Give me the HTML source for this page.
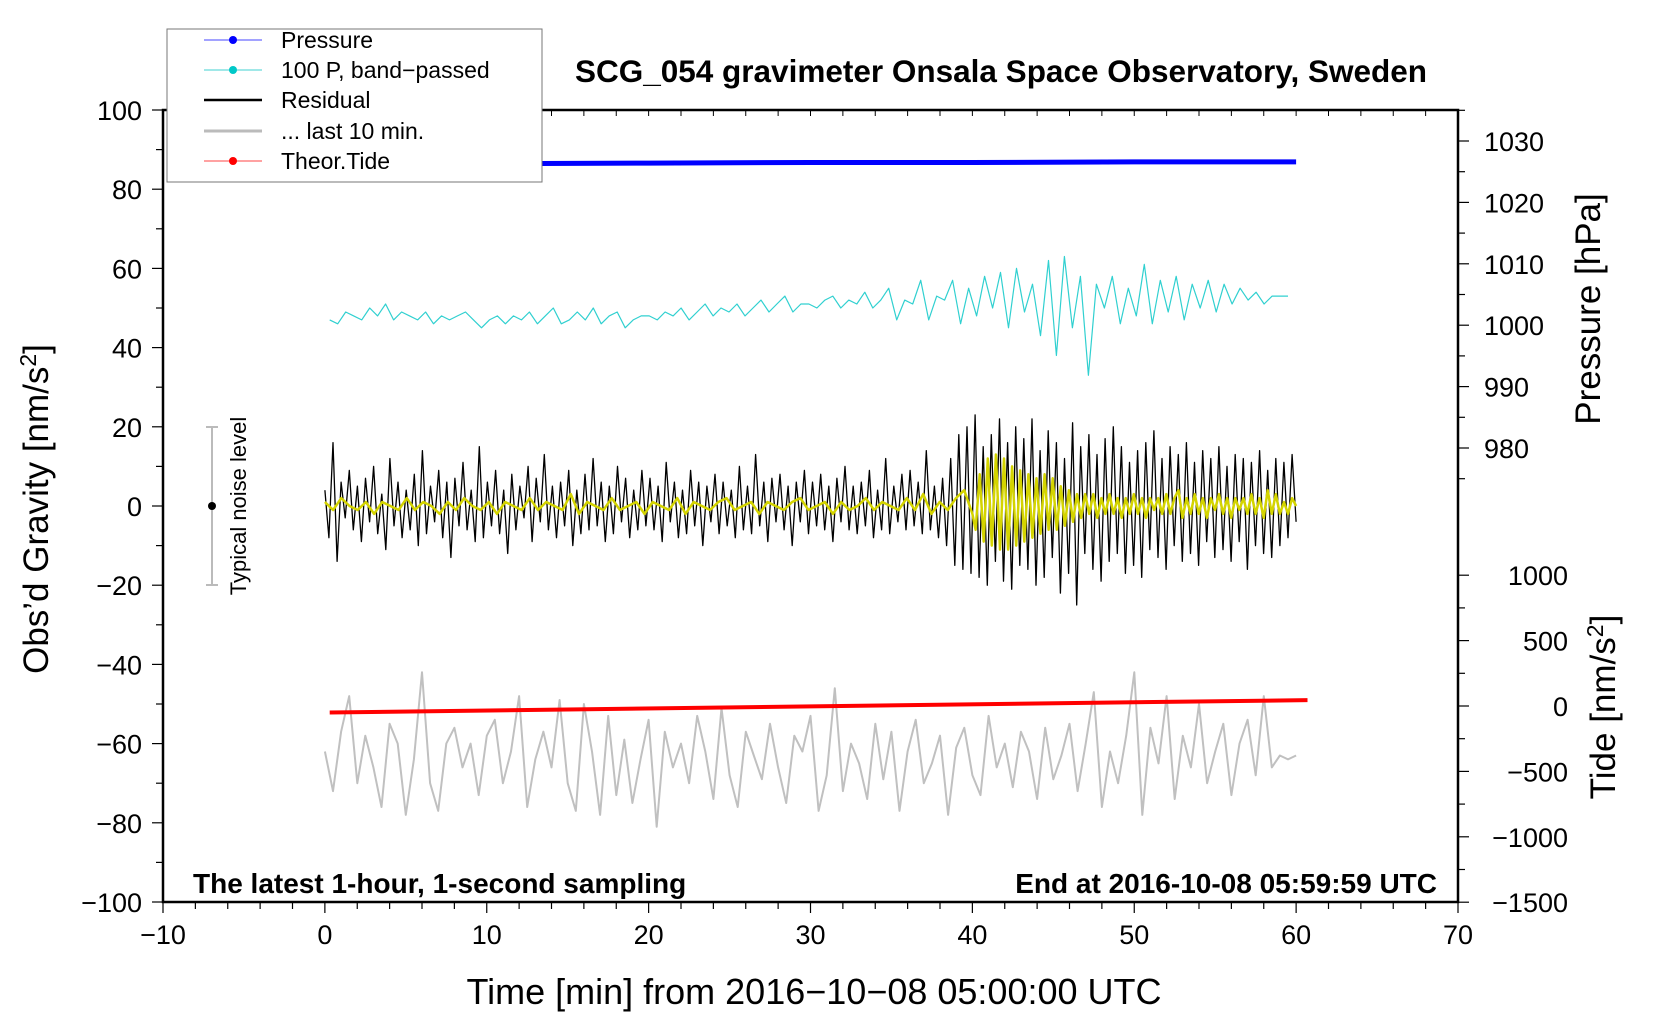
<!DOCTYPE html>
<html><head><meta charset="utf-8"><style>
html,body{margin:0;padding:0;background:#fff;}
svg{display:block;font-family:"Liberation Sans",sans-serif;}
</style></head><body>
<svg id="chart" width="1660" height="1020" viewBox="0 0 1660 1020" xmlns="http://www.w3.org/2000/svg">
<rect x="0" y="0" width="1660" height="1020" fill="#fff"/>
<g id="axes"></g>
<g id="series"></g>
<text x="1001" y="82" text-anchor="middle" font-size="31.5" font-weight="bold">SCG_054 gravimeter Onsala Space Observatory, Sweden</text>
<text x="193" y="893" font-size="28" font-weight="bold">The latest 1-hour, 1-second sampling</text>
<text x="1437" y="893" text-anchor="end" font-size="28" font-weight="bold">End at 2016-10-08 05:59:59 UTC</text>
<text x="814" y="1004" text-anchor="middle" font-size="36">Time [min] from 2016−10−08 05:00:00 UTC</text>
<text transform="translate(48,509) rotate(-90)" text-anchor="middle" font-size="35">Obs’d Gravity [nm/s<tspan font-size="23" dy="-12">2</tspan><tspan dy="12">]</tspan></text>
<text transform="translate(1600,309) rotate(-90)" text-anchor="middle" font-size="35">Pressure [hPa]</text>
<text transform="translate(1615,707) rotate(-90)" text-anchor="middle" font-size="35">Tide [nm/s<tspan font-size="23" dy="-12">2</tspan><tspan dy="12">]</tspan></text>
<g>
<line x1="212" y1="427" x2="212" y2="585" stroke="#bbb" stroke-width="2"/>
<line x1="206" y1="427" x2="218" y2="427" stroke="#bbb" stroke-width="2"/>
<line x1="206" y1="585" x2="218" y2="585" stroke="#bbb" stroke-width="2"/>
<circle cx="212" cy="506" r="4" fill="#000"/>
<text transform="translate(246,506) rotate(-90)" text-anchor="middle" font-size="22">Typical noise level</text>
</g>
<g>
<rect x="167" y="29" width="375" height="153" fill="#fff" stroke="#777" stroke-width="1"/>
<g><line x1="204" y1="40" x2="262" y2="40" stroke="#4444ff" stroke-width="1"/><circle cx="233" cy="40" r="4" fill="#0000ff"/><text x="281" y="48" font-size="23">Pressure</text></g>
<g><line x1="204" y1="70" x2="262" y2="70" stroke="#40d0d0" stroke-width="1"/><circle cx="233" cy="70" r="4" fill="#00c8c8"/><text x="281" y="78" font-size="23">100 P, band−passed</text></g>
<g><line x1="204" y1="100" x2="262" y2="100" stroke="#000" stroke-width="2.5"/><text x="281" y="108" font-size="23">Residual</text></g>
<g><line x1="204" y1="131" x2="262" y2="131" stroke="#bbb" stroke-width="3"/><text x="281" y="139" font-size="23">... last 10 min.</text></g>
<g><line x1="204" y1="161" x2="262" y2="161" stroke="#ff4444" stroke-width="1"/><circle cx="233" cy="161" r="4" fill="#ff0000"/><text x="281" y="169" font-size="23">Theor.Tide</text></g>
</g>
</svg>
<script>
const xTicks=[-10,0,10,20,30,40,50,60,70];
const yTicks=[100,80,60,40,20,0,-20,-40,-60,-80,-100];
const pTicks=[1030,1020,1010,1000,990,980];
const tTicks=[1000,500,0,-500,-1000,-1500];
const pressureTime=[0,10,20,30,40,50,60];
const pressureVals=[1026.4,1026.3,1026.4,1026.5,1026.5,1026.6,1026.6];
const tideTime=[0.3,60.7];
const tideVals=[-50,45];
const bandVals=[47,46,49,48,47,50,48,51,47,49,48,47,49,46,48,47,48,49,47,45,
47,48,46,48,47,49,46,48,50,46,47,49,47,50,46,48,49,45,47,48,
48,47,49,48,50,47,49,51,48,50,49,51,48,50,52,49,51,53,49,51,
51,50,52,53,50,52,51,54,50,52,55,47,52,51,57,47,53,52,57,46,
55,48,58,50,59,45,60,49,56,43,62,38,63,45,58,33,56,50,58,46,
55,48,61,46,57,49,58,47,56,50,57,49,56,51,55,52,54,51,53,53,53];
const residualVals=[4,-8,16,-14,6,-3,9,-6,5,-9,7,-4,10,-7,3,-11,12,-5,6,-8,4,-6,8,-10,14,-7,5,-4,9,-8,6,-13,7,-5,11,-6,4,-9,15,-8,
6,-5,9,-7,4,-12,8,-6,5,-3,10,-9,7,-4,13,-6,5,-8,6,-5,9,-10,4,-7,8,-6,12,-5,6,-9,5,-7,10,-4,7,-8,4,-6,9,-5,
7,-6,5,-9,11,-4,6,-8,4,-7,9,-5,6,-10,5,-4,8,-7,6,-5,4,-8,10,-6,5,-7,13,-5,6,-9,7,-4,8,-6,5,-10,6,-4,9,-7,
6,-5,8,-6,5,-9,7,-4,10,-6,5,-7,6,-5,9,-8,4,-6,12,-7,5,-4,8,-6,9,-5,6,-7,14,-6,5,-8,7,-10,12,-15,18,-16,20,-17,
23,-18,15,-20,18,-14,22,-19,16,-21,20,-15,17,-16,22,-20,14,-18,19,-13,
16,-22,12,-17,21,-25,15,-12,18,-16,13,-19,17,-14,20,-12,15,-17,11,-15,
14,-18,16,-11,19,-13,12,-16,15,-10,13,-14,16,-12,11,-15,14,-9,12,-13,
15,-11,10,-14,13,-9,12,-16,11,-10,14,-12,9,-13,12,-10,11,-8,13,-4];
const smoothEarly=[1,-1,2,0,-1,1,-2,1,0,-1,2,-1,1,0,-2,1,-1,2,0,-1,1,-2,1,0,-1,2,-1,1,0,-1,3,-2,1,0,-1,2,-1,0,1,-2,
1,0,-1,2,-2,1,0,-1,1,2,-1,0,1,-2,1,0,-1,1,2,-1,0,1,-2,1,-1,0,2,-1,1,0,-1,2,-1,3,-2,1,-1,2,4,-2];
const smoothLate=[-6,8,-9,12,-10,13,-11,12,-11,10,-10,9,-9,8,-8,7,-7,8,-6,7,-6,5,-5,4,-4,3,-3,3,-2,3,-3,2,-2,3,-2,2,-3,2,-2,3,
-2,2,-3,2,-1,2,-2,3,-2,2,4,-3,2,-2,3,-2,2,-3,2,-1,3,-2,2,-3,2,-1,2,-2,3,-2,2,-3,4,-2,3,-2,1,-2,2,0];
const last10Vals=[-62,-72,-57,-48,-70,-58,-66,-76,-55,-60,-78,-64,-42,-70,-77,-60,-56,-66,-60,-73,
-58,-54,-70,-62,-48,-76,-64,-57,-66,-49,-70,-77,-50,-62,-78,-53,-73,-59,-75,-64,
-54,-81,-57,-66,-60,-70,-53,-62,-74,-51,-68,-76,-57,-63,-69,-55,-66,-75,-58,-62,
-53,-77,-68,-46,-72,-60,-65,-74,-55,-69,-57,-77,-62,-54,-70,-65,-58,-78,-61,-56,
-68,-73,-53,-66,-60,-71,-57,-62,-74,-56,-69,-63,-55,-72,-60,-47,-76,-62,-70,-58,
-42,-78,-56,-65,-48,-74,-58,-66,-50,-70,-62,-55,-73,-60,-54,-68,-48,-66,-63,-64,-63];

const L=163,R=1458,T=110,B=902;
const xs=t=>L+(t+10)*(R-L)/80;
const yg=v=>(T+B)/2-v*(B-T)/200;
const yp=p=>141+(1030-p)*6.14;
const yt=v=>706-v*0.1308;
const NS='http://www.w3.org/2000/svg';
function mk(tag,attrs,parent){const e=document.createElementNS(NS,tag);for(const k in attrs)e.setAttribute(k,attrs[k]);parent.appendChild(e);return e;}
const ax=document.getElementById('axes'), se=document.getElementById('series');

const frame=mk('rect',{x:L,y:T,width:R-L,height:B-T,fill:'none',stroke:'#000','stroke-width':2.5},ax);


for(let t=-10;t<=70;t+=2){
  const x=xs(t);const major=(t%10===0);
  mk('line',{x1:x,y1:B,x2:x,y2:B+(major?11:7),stroke:'#000','stroke-width':1.2},ax);
  mk('line',{x1:x,y1:T,x2:x,y2:T+6,stroke:'#000','stroke-width':1},ax);
}
xTicks.forEach(t=>{const e=mk('text',{x:xs(t),y:B+42,'text-anchor':'middle','font-size':27},ax);e.textContent=(t<0?'−':'')+Math.abs(t);

});
for(let v=-100;v<=100;v+=10){const y=yg(v);mk('line',{x1:L,y1:y,x2:L-(v%20===0?11:7),y2:y,stroke:'#000','stroke-width':1.2},ax);}
yTicks.forEach(v=>{const e=mk('text',{x:L-21,y:yg(v)+10,'text-anchor':'end','font-size':27},ax);e.textContent=(v<0?'−':'')+Math.abs(v);

});
for(let p=975;p<=1035;p+=5){const y=yp(p);if(y<T||y>B)continue;mk('line',{x1:R,y1:y,x2:R+(p%10===0?11:7),y2:y,stroke:'#000','stroke-width':1.2},ax);}
pTicks.forEach(p=>{const e=mk('text',{x:R+26,y:yp(p)+10,'font-size':27},ax);e.textContent=p;

});
for(let v=-1500;v<=1000;v+=250){const y=yt(v);mk('line',{x1:R,y1:y,x2:R+(v%500===0?11:7),y2:y,stroke:'#000','stroke-width':1.2},ax);}
tTicks.forEach(v=>{const e=mk('text',{x:1568,y:yt(v)+10,'text-anchor':'end','font-size':27},ax);e.textContent=(v<0?'−':'')+Math.abs(v);

});

function poly(pts,color,w,name){const e=mk('polyline',{points:pts.map(p=>p[0].toFixed(1)+','+p[1].toFixed(1)).join(' '),fill:'none',stroke:color,'stroke-width':w,'stroke-linejoin':'round'},se);

return e;}
const even=(arr,t0,t1)=>arr.map((v,i)=>t0+i*(t1-t0)/(arr.length-1));

const gT=even(last10Vals,0,60);
poly(last10Vals.map((v,i)=>[xs(gT[i]),yg(v)]),'#c0c0c0',2,'last-10-min-line');
poly(tideVals.map((v,i)=>[xs(tideTime[i]),yt(v)]),'#ff0000',4,'theor-tide-line');
const bT=even(bandVals,0.3,59.5);
poly(bandVals.map((v,i)=>[xs(bT[i]),yg(v)]),'#30d0d0',1.2,'band-passed-pressure-line');
poly(pressureVals.map((v,i)=>[xs(pressureTime[i]),yp(v)]),'#0000ff',5,'pressure-line');
const rT=even(residualVals,0,60);
poly(residualVals.map((v,i)=>[xs(rT[i]),yg(v)]),'#000',1.3,'residual-line');
const eT=even(smoothEarly,0,40), lT=even(smoothLate,40.2,60);
const sm=smoothEarly.map((v,i)=>[xs(eT[i]),yg(v)]).concat(smoothLate.map((v,i)=>[xs(lT[i]),yg(v)]));
poly(sm,'#d4d400',2.5,'smoothed-residual-line');
</script>
</body></html>
